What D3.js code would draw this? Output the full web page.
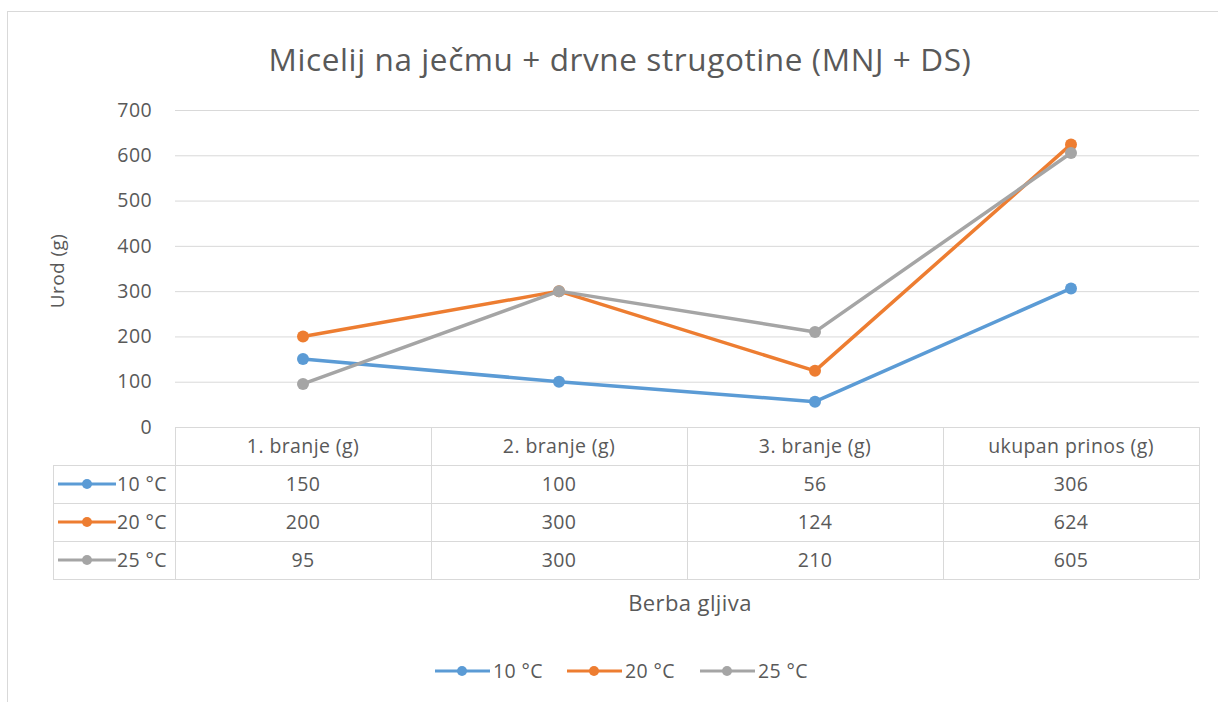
<!DOCTYPE html>
<html><head><meta charset="utf-8">
<script src="https://cdnjs.cloudflare.com/ajax/libs/d3/7.8.5/d3.min.js"></script>
<style>
html,body{margin:0;padding:0;background:#fff;overflow:hidden;}
svg{display:block;}
svg text{font-family:"Open Sans",Lato,sans-serif;fill:#595959;letter-spacing:0.4px;}
</style></head><body>
<svg id="c" width="1218" height="702"></svg>
<script>
const title = "Micelij na ječmu + drvne strugotine (MNJ + DS)";
const categories = ["1. branje (g)", "2. branje (g)", "3. branje (g)", "ukupan prinos (g)"];
const seriesNames = ["10 °C", "20 °C", "25 °C"];
const values10 = [150, 100, 56, 306];
const values20 = [200, 300, 124, 624];
const values25 = [95, 300, 210, 605];
const yTicks = [0, 100, 200, 300, 400, 500, 600, 700];
const colors = ["#5B9BD5", "#ED7D31", "#A5A5A5"];
const yTitle = "Urod (g)";
const xTitle = "Berba gljiva";

(function () {
const series = [values10, values20, values25].map((v, i) => ({name: seriesNames[i], values: v, color: colors[i]}));
const FS = 19.5;

const svg = d3.select("#c");
svg.append("rect").attr("x", 7.5).attr("y", 11.5).attr("width", 1230).attr("height", 700)
  .attr("fill", "#fff").attr("stroke", "#d9d9d9").attr("stroke-width", 1);

const pLeft = 175, pRight = 1199, pTop = 110, pBottom = 427;
const x = d3.scaleBand().domain(categories).range([pLeft, pRight]);
const y = d3.scaleLinear().domain([0, 700]).range([pBottom, pTop]);

svg.append("text").attr("x", 620).attr("y", 71).attr("text-anchor", "middle")
  .attr("font-size", 31.5).style("letter-spacing", "0.6px").text(title);

const grid = svg.append("g").attr("transform", `translate(${pLeft},0)`)
  .call(d3.axisLeft(y).tickValues(yTicks).tickSize(-(pRight - pLeft)).tickFormat(""));
grid.select(".domain").remove();
grid.selectAll("line").attr("stroke", "#d9d9d9").attr("stroke-width", 1);

const ya = svg.append("g").attr("transform", `translate(${pLeft - 23},0)`)
  .call(d3.axisLeft(y).tickValues(yTicks).tickSize(0).tickPadding(0));
ya.select(".domain").remove();
ya.selectAll("text").attr("font-size", FS).attr("fill", "#595959")
  .attr("font-family", "'Open Sans', Lato, sans-serif");

svg.append("text").attr("transform", "translate(64,271) rotate(-90)")
  .attr("text-anchor", "middle").attr("font-size", 19).text(yTitle);

const rowH = 38;
const hdrTop = pBottom, hdrBot = 465;
const rowTops = seriesNames.map((d, i) => hdrBot + i * rowH);
const tableBot = hdrBot + seriesNames.length * rowH;
const tbl = svg.append("g").attr("stroke", "#d9d9d9").attr("stroke-width", 1).attr("shape-rendering", "crispEdges");
tbl.append("line").attr("x1", pLeft).attr("x2", pRight).attr("y1", hdrTop + .5).attr("y2", hdrTop + .5);
[hdrBot, ...rowTops.slice(1), tableBot].forEach(yy => {
  tbl.append("line").attr("x1", 53).attr("x2", pRight).attr("y1", yy + .5).attr("y2", yy + .5);
});
categories.forEach(c => {
  tbl.append("line").attr("x1", x(c) + .5).attr("x2", x(c) + .5).attr("y1", hdrTop).attr("y2", tableBot);
});
tbl.append("line").attr("x1", pRight + .5).attr("x2", pRight + .5).attr("y1", hdrTop).attr("y2", tableBot);
tbl.append("line").attr("x1", 53.5).attr("x2", 53.5).attr("y1", hdrBot).attr("y2", tableBot);

svg.append("g").selectAll("text").data(categories).join("text")
  .attr("x", d => x(d) + x.bandwidth() / 2).attr("y", (hdrTop + hdrBot) / 2 + 7)
  .attr("text-anchor", "middle").attr("font-size", FS).text(d => d);

series.forEach((s, i) => {
  const cy = rowTops[i] + rowH / 2;
  const g = svg.append("g");
  g.append("line").attr("x1", 58).attr("x2", 116).attr("y1", cy).attr("y2", cy)
    .attr("stroke", s.color).attr("stroke-width", 3);
  g.append("circle").attr("cx", 87).attr("cy", cy).attr("r", 5).attr("fill", s.color);
  g.append("text").attr("x", 117).attr("y", cy + 7).attr("font-size", FS).text(s.name);
  g.selectAll("text.v").data(s.values).join("text").attr("class", "v")
    .attr("x", (d, j) => x(categories[j]) + x.bandwidth() / 2).attr("y", cy + 7)
    .attr("text-anchor", "middle").attr("font-size", FS).text(d => d);
});

svg.append("text").attr("x", 690).attr("y", 611).attr("text-anchor", "middle")
  .attr("font-size", 22).text(xTitle);

const line = d3.line().x((d, j) => x(categories[j]) + x.bandwidth() / 2).y(d => y(d));
series.forEach(s => {
  svg.append("path").datum(s.values).attr("d", line).attr("fill", "none")
    .attr("stroke", s.color).attr("stroke-width", 3.5).attr("stroke-linejoin", "round");
  svg.append("g").selectAll("circle").data(s.values).join("circle")
    .attr("cx", (d, j) => x(categories[j]) + x.bandwidth() / 2).attr("cy", d => y(d))
    .attr("r", 6).attr("fill", s.color);
});

const legX = [435, 567, 700];
series.forEach((s, i) => {
  const g = svg.append("g").attr("transform", `translate(${legX[i]},671)`);
  g.append("line").attr("x1", 0).attr("x2", 55).attr("stroke", s.color).attr("stroke-width", 3);
  g.append("circle").attr("cx", 27).attr("r", 5).attr("fill", s.color);
  g.append("text").attr("x", 58).attr("y", 7).attr("font-size", FS).text(s.name);
});
})();
</script>
</body></html>
